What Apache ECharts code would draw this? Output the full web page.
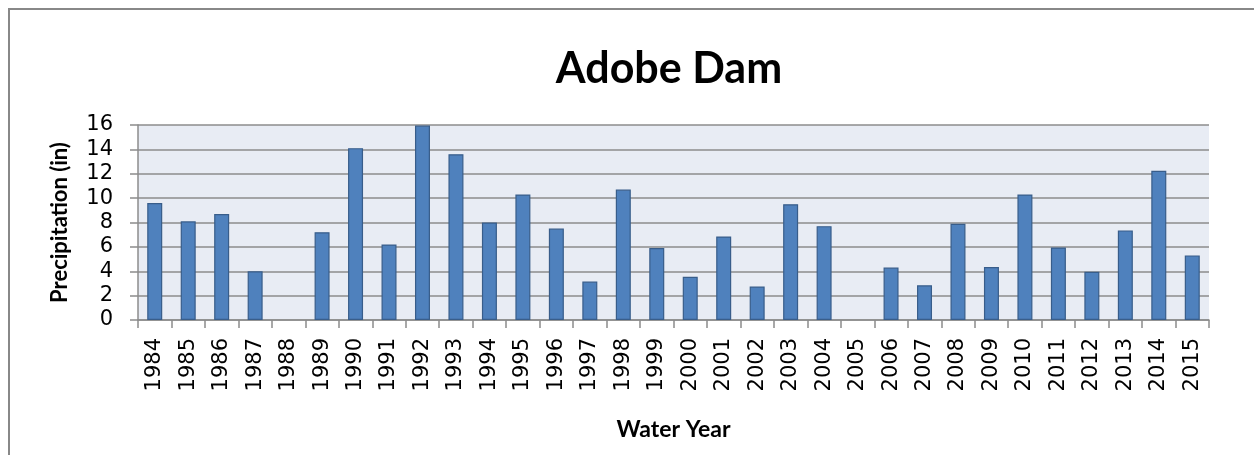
<!DOCTYPE html>
<html>
<head>
<meta charset="utf-8">
<script src="https://cdn.jsdelivr.net/npm/echarts@6/dist/echarts.min.js"></script>
<style>
html,body{margin:0;padding:0;background:#fff;}
#chart{width:1254px;height:455px;}
</style>
</head>
<body>
<div id="chart"></div>
<script>
var years = ['1984','1985','1986','1987','1988','1989','1990','1991','1992','1993','1994','1995','1996','1997','1998','1999','2000','2001','2002','2003','2004','2005','2006','2007','2008','2009','2010','2011','2012','2013','2014','2015'];
var precipitation = [9.6,8.1,8.7,4.0,0,7.2,14.1,6.2,15.95,13.6,8.0,10.3,7.5,3.15,10.7,5.9,3.55,6.85,2.75,9.5,7.7,0,4.3,2.85,7.9,4.35,10.3,5.95,3.95,7.35,12.25,5.3];
var yTicks = [0,2,4,6,8,10,12,14,16];

var barData = precipitation.map(function (v) {
  return v === 0 ? {value: v, itemStyle: {borderWidth: 0}} : v;
});

var chart = echarts.init(document.getElementById('chart'));
chart.setOption({
  animation: false,
  backgroundColor: '#ffffff',
  title: {
    text: 'Adobe Dam',
    left: 664, top: 43, textAlign: 'center',
    textStyle: {fontFamily: 'Lato', fontWeight: 'bold', fontSize: 43, color: '#000'}
  },
  graphic: [{
    type: 'rect', silent: true, z: -1,
    shape: {x: 9, y: 9, width: 1270, height: 470},
    style: {fill: 'none', stroke: '#888888', lineWidth: 2}
  }],
  grid: {left: 138, right: 45, top: 125, height: 195, show: true, backgroundColor: '#e8ecf4', borderWidth: 0},
  xAxis: {
    type: 'category',
    data: years,
    name: 'Water Year',
    nameLocation: 'middle',
    nameGap: 98,
    nameTextStyle: {fontFamily: 'Lato', fontWeight: 'bold', fontSize: 23, color: '#000'},
    axisLine: {lineStyle: {color: '#8c8c8c', width: 1.5}},
    axisTick: {show: true, length: 8, alignWithLabel: false, lineStyle: {color: '#8c8c8c', width: 1.5}},
    axisLabel: {rotate: 90, margin: 18, fontFamily: 'DejaVu Sans', fontSize: 21, color: '#000', interval: 0}
  },
  yAxis: {
    type: 'value',
    min: 0, max: 16, interval: 2,
    name: 'Precipitation (in)',
    nameLocation: 'middle',
    nameGap: 67,
    nameTextStyle: {fontFamily: 'Lato', fontWeight: 'bold', fontSize: 22, color: '#000'},
    axisLine: {show: true, lineStyle: {color: '#8c8c8c', width: 1.5}},
    axisTick: {show: true, length: 8, lineStyle: {color: '#8c8c8c', width: 1.5}},
    splitLine: {show: true, lineStyle: {color: '#8c8c8c', width: 1.5}},
    axisLabel: {margin: 25, fontFamily: 'DejaVu Sans', fontSize: 21, color: '#000',
      formatter: function (v) { return yTicks.indexOf(v) >= 0 ? String(v) : ''; }}
  },
  series: [{
    type: 'bar',
    data: barData,
    barWidth: 15,
    itemStyle: {color: '#4f81bd', borderColor: '#385d8a', borderWidth: 1.2}
  }]
});
</script>
</body>
</html>
